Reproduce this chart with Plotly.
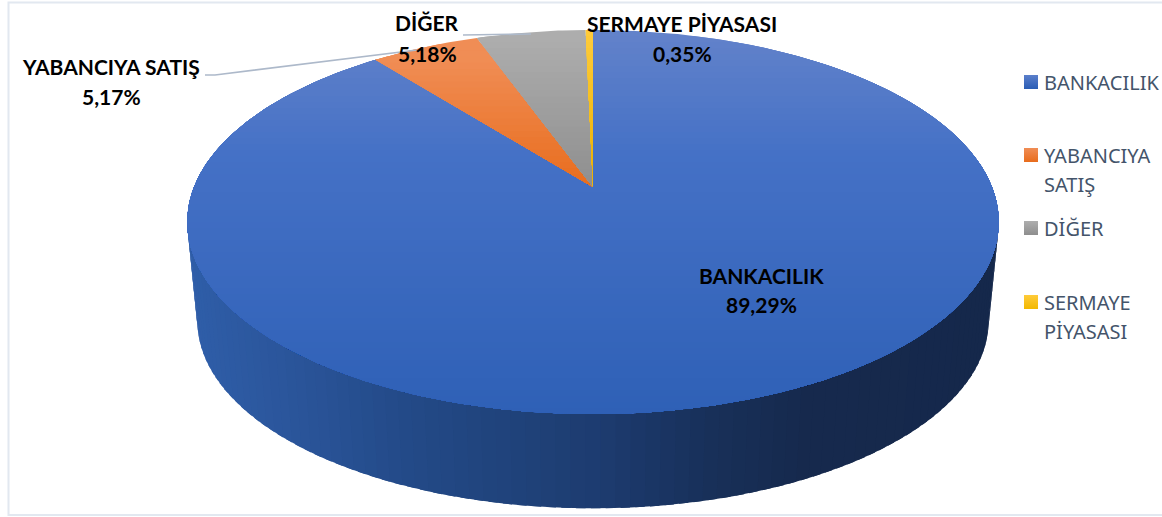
import math
import numpy as np
import plotly.graph_objects as go

# ---- data ----
categories = ["BANKACILIK", "YABANCIYA SATIŞ", "DİĞER", "SERMAYE PİYASASI"]
values = [89.29, 5.17, 5.18, 0.35]

# ---- styles ----
top_stops = [
    [(30, "#6282CA"), (150, "#4571C6"), (414, "#2E60B6")],
    [(55, "#F08D55"), (187, "#E86C1C")],
    [(35, "#ADADAD"), (187, "#8E8E8E")],
    [(30, "#FFCB3A"), (187, "#E8B000")],
]
wall_stops = [(187, "#2F5EA9"), (300, "#2A5499"), (400, "#234A88"), (593, "#1D3C70"),
              (700, "#18305A"), (800, "#16294D"), (1000, "#15284B")]
legend_colors = [("#5B7FCB", "#2A5DB5"), ("#F08D55", "#E86C1C"), ("#AEAEAE", "#8E8E8E"), ("#FFCB3A", "#F2B800")]
legend_lines = [["BANKACILIK"], ["YABANCIYA", "SATIŞ"], ["DİĞER"], ["SERMAYE", "PİYASASI"]]
legend_y = [82, 155, 228, 302]
label_pos = [(761, 275, 304), (111, 66, 96), (427, 22, 53), (682, 23, 53)]
label_text = ["BANKACILIK", "YABANCIYA SATIŞ", "DİĞER", "SERMAYE PİYASASI"]

# projection of the disc (perspective tilt)
CX, CY, R, H, K = 593.0, 187.0, 399.0, 185.7, 0.182
DEPTH, SHRINK = 100.0, 0.975


def project(a, level=0):
    w = 1 + K * np.cos(a)
    s = 1.0 if level == 0 else SHRINK
    return CX + s * R * np.sin(a) / w, CY + level * DEPTH - s * H * np.cos(a) / w


def hex2rgb(c):
    return [int(c[i:i + 2], 16) for i in (1, 3, 5)]


def ramp(stops, t):
    if t <= stops[0][0]:
        return stops[0][1]
    for (a, ca), (b, cb) in zip(stops, stops[1:]):
        if t <= b:
            f = (t - a) / (b - a)
            ra, rb = hex2rgb(ca), hex2rgb(cb)
            return "rgb(%d,%d,%d)" % tuple(round(x + (y - x) * f) for x, y in zip(ra, rb))
    return stops[-1][1]


def clip_below(xs, ys, y0):
    """keep the part of a polygon with y >= y0"""
    ox, oy = [], []
    n = len(xs)
    for i in range(n):
        x1, y1, x2, y2 = xs[i], ys[i], xs[(i + 1) % n], ys[(i + 1) % n]
        if y1 >= y0:
            ox.append(x1); oy.append(y1)
        if (y1 >= y0) != (y2 >= y0):
            f = (y0 - y1) / (y2 - y1)
            ox.append(x1 + (x2 - x1) * f); oy.append(y0)
    return ox, oy


fig = go.Figure()


def poly(xs, ys, color, name):
    fig.add_trace(go.Scatter(x=list(xs) + [xs[0]], y=list(ys) + [ys[0]], mode="lines", fill="toself",
                             fillcolor=color, line=dict(width=0, color=color), name=name,
                             hoverinfo="skip", showlegend=False))


# side wall of the cylinder: the visible front runs between the two silhouette angles
a0, a1 = math.acos(-K), 2 * math.pi - math.acos(-K)
wall = np.linspace(a0, a1, 90)
for i in range(len(wall) - 1):
    a = np.linspace(wall[i], min(wall[i + 1] + 0.02, a1), 6)
    x1, y1 = project(a, 0)
    x2, y2 = project(a[::-1], 1)
    xs = np.r_[x1, x2]
    ys = np.r_[y1, y2]
    poly(xs, ys, ramp(wall_stops, float(np.mean(xs))), categories[0])

# top face, wedge by wedge, clockwise from twelve o'clock
total = sum(values)
start = 0.0
for idx, v in enumerate(values):
    end = start + v / total * 2 * math.pi
    a = np.linspace(start, end, max(8, int(v * 5)))
    x, y = project(a, 0)
    xs = [CX] + list(x)
    ys = [CY] + list(y)
    stops = top_stops[idx]
    y_min, y_max = min(ys), max(ys)
    n = max(6, int((y_max - y_min) / 6))
    for j in range(n):
        level = y_min + (y_max - y_min) * j / n
        cx, cy = clip_below(xs, ys, level) if j else (xs, ys)
        if len(cx) > 2:
            poly(cx, cy, ramp(stops, level), categories[idx])
    start = end

# legend markers
fig.add_trace(go.Scatter(
    x=[1031] * 4, y=legend_y, mode="markers", hoverinfo="skip", showlegend=False,
    marker=dict(symbol="square", size=14, color=[c[0] for c in legend_colors], line=dict(width=0),
                gradient=dict(type="vertical", color=[c[1] for c in legend_colors]))))

ann = []
for name, v, (lx, ly1, ly2) in zip(label_text, values, label_pos):
    pct = f"{v:.2f}".replace(".", ",") + "%"
    for txt, yy in ((name, ly1), (pct, ly2)):
        ann.append(dict(x=lx, y=yy, text=txt, showarrow=False, xanchor="center", yanchor="middle",
                        font=dict(family="Lato", size=21, color="#000000", weight="bold")))
for lines, yy in zip(legend_lines, legend_y):
    for k, line in enumerate(lines):
        ann.append(dict(x=1042, y=yy + k * 29, text=line, showarrow=False, xanchor="left", yanchor="middle",
                        font=dict(family="Noto Sans", size=20, color="#44546A")))

shapes = [
    dict(type="rect", x0=8.5, x1=1175, y0=2.5, y1=515, line=dict(color="#E2E8F0", width=2), layer="below"),
    dict(type="path", path="M 205 75 L 215 75 L 417 50", line=dict(color="#ADB9CA", width=1.6), layer="above"),
    dict(type="path", path="M 463 35 L 531 34", line=dict(color="#ADB9CA", width=1.6), layer="above"),
]

fig.update_layout(
    width=1162, height=517, margin=dict(l=0, r=0, t=0, b=0),
    paper_bgcolor="#FFFFFF", plot_bgcolor="#FFFFFF", showlegend=False,
    xaxis=dict(range=[0, 1162], visible=False, fixedrange=True),
    yaxis=dict(range=[517, 0], visible=False, fixedrange=True),
    annotations=ann, shapes=shapes,
)
fig.write_html("out.html", config={"displayModeBar": False},
               post_script="document.body.style.margin='0';document.documentElement.style.overflow='hidden';")
